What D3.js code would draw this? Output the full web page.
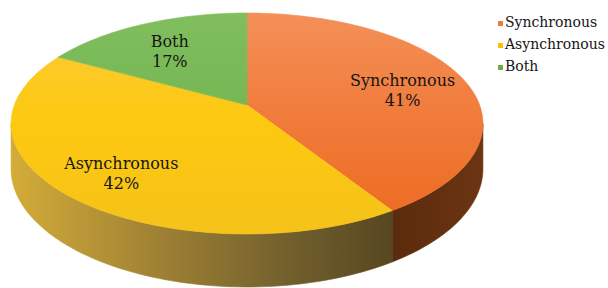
<!DOCTYPE html>
<html><head><meta charset="utf-8">
<script src="https://cdn.jsdelivr.net/npm/d3@7"></script>
<style>html,body{margin:0;padding:0;background:#fff;}svg{display:block;}</style>
</head><body>
<svg id="chart" width="608" height="288"></svg>
<script>
const categories = ["Synchronous", "Asynchronous", "Both"];
const values = [41, 42, 17];
const valueLabels = ["41%", "42%", "17%"];

const svg = d3.select("#chart");

// perspective disk projection
const cx = 247, cy = 105, A = 232.6, B = 107.4, k = 0.1674, depth = 53;
const wFront = 1 - k;
function proj(theta, r = 1, down = 0) {
  const u = r * Math.sin(theta), v = r * Math.cos(theta);
  const w = 1 + k * v;
  return [cx + A * u / w, cy - B * v / w + down * (wFront / w)];
}

const pie = d3.pie().sort(null).value(d => d.value);
const data = categories.map((c, i) => ({ name: c, value: values[i], label: valueLabels[i] }));
const arcs = pie(data);

const color = d3.scaleOrdinal().domain(categories).range(["#ed7d31", "#ffc000", "#70ad47"]);
const topStops = {
  "Synchronous": [["0%", "#f39058"], ["55%", "#f07836"], ["100%", "#ec6a1f"]],
  "Asynchronous": [["0%", "#fbcb3c"], ["50%", "#fdc90f"], ["100%", "#f5c21a"]],
  "Both": [["0%", "#80be5e"], ["100%", "#6aac45"]]
};
const sideStops = {
  "Synchronous": [["0%", "#5a2b0d"], ["100%", "#6c3512"]],
  "Asynchronous": [["0%", "#d3ac38"], ["35%", "#a48535"], ["75%", "#6f5d2c"], ["100%", "#574720"]],
  "Both": [["0%", "#4f7a33"], ["100%", "#4f7a33"]]
};

const defs = svg.append("defs");
categories.forEach((c, i) => {
  const g = defs.append("linearGradient").attr("id", "top" + i)
    .attr("gradientUnits", "userSpaceOnUse")
    .attr("x1", 0).attr("y1", cy - B / (1 + k)).attr("x2", 0).attr("y2", cy + B / (1 - k));
  topStops[c].forEach(s => g.append("stop").attr("offset", s[0]).attr("stop-color", s[1]));
  const g2 = defs.append("linearGradient").attr("id", "side" + i)
    .attr("gradientUnits", "userSpaceOnUse")
    .attr("x1", cx - A * 1.0144).attr("y1", 0).attr("x2", proj(arcs[0].endAngle)[0]).attr("y2", 0);
  if (c === "Synchronous") g2.attr("x1", proj(arcs[0].endAngle)[0]).attr("x2", cx + A * 1.0144);
  sideStops[c].forEach(s => g2.append("stop").attr("offset", s[0]).attr("stop-color", s[1]));
});

const line = d3.line();
const visStart = Math.acos(-k), visEnd = 2 * Math.PI - Math.acos(-k);
const N = 120;

// sides
arcs.forEach((a, i) => {
  const s = Math.max(a.startAngle, visStart), e = Math.min(a.endAngle, visEnd);
  if (e <= s) return;
  const n = Math.max(4, Math.round(N * (e - s) / Math.PI));
  const topPts = d3.range(n + 1).map(j => proj(s + (e - s) * j / n));
  const botPts = d3.range(n + 1).map(j => proj(s + (e - s) * j / n, 1, depth)).reverse();
  svg.append("path").attr("d", line(topPts.concat(botPts)) + "Z")
    .attr("fill", `url(#side${i})`).attr("stroke", `url(#side${i})`).attr("stroke-width", 0.6);
});

// top faces
arcs.forEach((a, i) => {
  const n = Math.max(4, Math.round(N * (a.endAngle - a.startAngle) / Math.PI));
  const pts = [proj(0, 0)].concat(d3.range(n + 1).map(j => proj(a.startAngle + (a.endAngle - a.startAngle) * j / n)));
  svg.append("path").attr("d", line(pts) + "Z")
    .attr("fill", `url(#top${i})`).attr("stroke", `url(#top${i})`).attr("stroke-width", 0.6);
});

// labels
const fontFam = "'DejaVu Serif', serif";
arcs.forEach(a => {
  const mid = (a.startAngle + a.endAngle) / 2;
  const p = proj(mid, 0.72);
  const t = svg.append("text").attr("text-anchor", "middle")
    .attr("font-family", fontFam).attr("font-size", 16).attr("fill", "#151515");
  t.append("tspan").attr("x", p[0]).attr("y", p[1] + 2).text(a.data.name);
  t.append("tspan").attr("x", p[0]).attr("y", p[1] + 22).text(a.data.label);
});

// legend
const legend = svg.append("g").attr("transform", "translate(498,27)");
categories.forEach((c, i) => {
  const g = legend.append("g").attr("transform", `translate(0,${i * 22})`);
  g.append("rect").attr("x", 0).attr("y", -6).attr("width", 5).attr("height", 5).attr("fill", color(c));
  g.append("text").attr("x", 7).attr("y", 0).attr("font-family", fontFam).attr("font-size", 14)
    .attr("fill", "#151515").text(c);
});
</script>
</body></html>
